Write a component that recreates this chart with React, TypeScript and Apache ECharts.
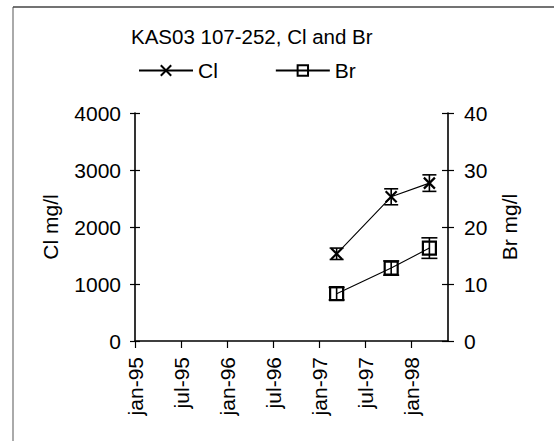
import React, { useEffect, useRef } from "react";
import * as echarts from "echarts";

const sampleDates = ["1997-03-13", "1997-10-16", "1998-03-17"];
const clValues = [1530, 2530, 2770];
const clErrors = [100, 140, 145];
const brValues = [8.3, 12.8, 16.3];
const brErrors = [1.1, 1.25, 1.8];
const monthNames = ["jan", "feb", "mar", "apr", "maj", "jun", "jul", "aug", "sep", "okt", "nov", "dec"];
const axisStartDate = "1995-01-01";
const dayStep = 183;
const dayMax = 1245;

const FONT = "'Liberation Sans', Arial, Helvetica, sans-serif";

function toDays(s: string): number {
  const base = Date.parse(axisStartDate + "T00:00:00Z");
  return Math.round((Date.parse(s + "T00:00:00Z") - base) / 86400000);
}

function dayLabel(v: number): string {
  if (Math.round(v) % dayStep !== 0) return "";
  const base = Date.parse(axisStartDate + "T00:00:00Z");
  const d = new Date(base + v * 86400000);
  const yy = String(d.getUTCFullYear() % 100).padStart(2, "0");
  return monthNames[d.getUTCMonth()] + "-" + yy;
}

export default function App() {
  const ref = useRef<HTMLDivElement>(null);
  useEffect(() => {
    if (!ref.current) return;
    const chart = echarts.init(ref.current, undefined, { renderer: "svg" });
    const days = sampleDates.map(toDays);
    const clData = days.map((d, i) => [d, clValues[i]]);
    const brData = days.map((d, i) => [d, brValues[i]]);
    const clErr = days.map((d, i) => [d, clValues[i] - clErrors[i], clValues[i] + clErrors[i]]);
    const brErr = days.map((d, i) => [d, brValues[i] - brErrors[i], brValues[i] + brErrors[i]]);

    const makeErr = (capHalf: number) => (params: any, api: any) => {
      const x = api.value(0);
      const lo = api.coord([x, api.value(1)]);
      const hi = api.coord([x, api.value(2)]);
      const st = { stroke: "#000", lineWidth: 1.6 };
      return {
        type: "group",
        children: [
          { type: "line", shape: { x1: lo[0], y1: lo[1], x2: hi[0], y2: hi[1] }, style: st },
          { type: "line", shape: { x1: lo[0] - capHalf, y1: lo[1], x2: lo[0] + capHalf, y2: lo[1] }, style: st },
          { type: "line", shape: { x1: hi[0] - capHalf, y1: hi[1], x2: hi[0] + capHalf, y2: hi[1] }, style: st },
        ],
      };
    };

    const axisLine = { show: true, lineStyle: { color: "#000", width: 1.6 } };
    const labelStyle = { color: "#000", fontSize: 21, fontFamily: FONT };
    const plain = (v: number) => String(v);

    chart.setOption({
      animation: false,
      backgroundColor: "#fff",
      title: {
        text: "KAS03 107-252, Cl and Br",
        left: 131,
        top: 26,
        padding: 0,
        textStyle: { color: "#000", fontSize: 20.5, fontWeight: "normal", fontFamily: FONT },
      },
      legend: {
        left: 138,
        top: 60,
        padding: 0,
        itemWidth: 54,
        itemHeight: 13,
        itemGap: 57,
        textStyle: { color: "#000", fontSize: 21, fontFamily: FONT },
        data: ["Cl", "Br"],
      },
      grid: { left: 135, right: 106, top: 113, bottom: 100 },
      xAxis: {
        type: "value",
        min: 0,
        max: dayMax,
        interval: dayStep,
        axisLine,
        axisTick: { show: true, length: 7, lineStyle: { color: "#000", width: 1.2 } },
        axisLabel: { ...labelStyle, rotate: 90, margin: 16, formatter: dayLabel, showMaxLabel: false },
        splitLine: { show: false },
      },
      yAxis: [
        {
          type: "value",
          position: "left",
          min: 0,
          max: 4000,
          interval: 1000,
          name: "Cl mg/l",
          nameLocation: "middle",
          nameGap: 74,
          nameTextStyle: { color: "#000", fontSize: 21, fontFamily: FONT },
          axisLine,
          axisTick: { show: true, length: 5, lineStyle: { color: "#000", width: 1.2 } },
          axisLabel: { ...labelStyle, margin: 14, formatter: plain },
          splitLine: { show: false },
        },
        {
          type: "value",
          position: "right",
          min: 0,
          max: 40,
          interval: 10,
          name: "Br mg/l",
          nameLocation: "middle",
          nameGap: 51,
          nameTextStyle: { color: "#000", fontSize: 21, fontFamily: FONT },
          axisLine,
          axisTick: { show: true, length: 6, lineStyle: { color: "#000", width: 1.2 } },
          axisLabel: { ...labelStyle, margin: 16, formatter: plain },
          splitLine: { show: false },
        },
        {
          type: "value",
          position: "left",
          min: 0,
          max: 4000,
          interval: 1000,
          axisLine: { show: false },
          axisTick: { show: true, inside: true, length: 5, lineStyle: { color: "#000", width: 1.2 } },
          axisLabel: { show: false },
          splitLine: { show: false },
        },
        {
          type: "value",
          position: "right",
          min: 0,
          max: 40,
          interval: 10,
          axisLine: { show: false },
          axisTick: { show: true, inside: true, length: 6, lineStyle: { color: "#000", width: 1.2 } },
          axisLabel: { show: false },
          splitLine: { show: false },
        },
      ],
      series: [
        {
          name: "Cl",
          type: "line",
          yAxisIndex: 0,
          data: clData,
          symbol: "path://M0,0L10,10M10,0L0,10",
          symbolSize: 11,
          lineStyle: { color: "#000", width: 1.1 },
          itemStyle: { color: "rgba(0,0,0,0)", borderColor: "#000", borderWidth: 2.2 },
          z: 3,
        },
        {
          name: "Br",
          type: "line",
          yAxisIndex: 1,
          data: brData,
          symbol: "rect",
          symbolSize: 13,
          lineStyle: { color: "#000", width: 1.1 },
          itemStyle: { color: "rgba(255,255,255,0)", borderColor: "#000", borderWidth: 2.2 },
          z: 3,
        },
        {
          type: "custom",
          yAxisIndex: 0,
          data: clErr,
          renderItem: makeErr(7),
          z: 4,
        },
        {
          type: "custom",
          yAxisIndex: 1,
          data: brErr,
          renderItem: makeErr(8),
          z: 4,
        },
      ],
      graphic: [
        { type: "line", shape: { x1: 13, y1: 7, x2: 13, y2: 441 }, style: { stroke: "#aaa", lineWidth: 2 } },
        { type: "line", shape: { x1: 13, y1: 7, x2: 554, y2: 7 }, style: { stroke: "#444", lineWidth: 1.5 } },
      ],
    });
    return () => chart.dispose();
  }, []);
  return (
    <div
      ref={ref}
      style={{ position: "fixed", left: 0, top: 0, width: 554, height: 441, background: "#fff" }}
    />
  );
}
